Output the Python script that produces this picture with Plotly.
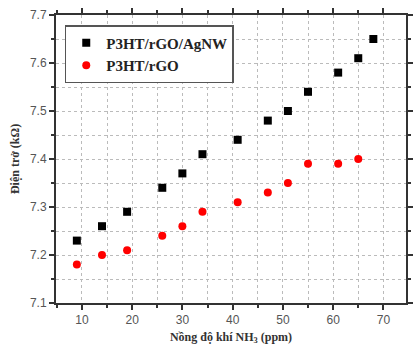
import plotly.graph_objects as go

x_agnw = [9, 14, 19, 26, 30, 34, 41, 47, 51, 55, 61, 65, 68]
y_agnw = [7.23, 7.26, 7.29, 7.34, 7.37, 7.41, 7.44, 7.48, 7.50, 7.54, 7.58, 7.61, 7.65]
x_rgo = [9, 14, 19, 26, 30, 34, 41, 47, 51, 55, 61, 65]
y_rgo = [7.18, 7.20, 7.21, 7.24, 7.26, 7.29, 7.31, 7.33, 7.35, 7.39, 7.39, 7.40]
name_agnw = "P3HT/rGO/AgNW"
name_rgo = "P3HT/rGO"
x_title = "Nồng độ khí NH<sub>3</sub> (ppm)"
y_title = "Điện trở (kΩ)"

fig = go.Figure()
fig.add_trace(go.Scatter(x=x_agnw, y=y_agnw, mode="markers", name="<b>" + name_agnw + "</b>",
                         marker=dict(symbol="square", size=8, color="black")))
fig.add_trace(go.Scatter(x=x_rgo, y=y_rgo, mode="markers", name="<b>" + name_rgo + "</b>",
                         marker=dict(symbol="circle", size=8, color="#ff0000")))

tickfont = dict(family="Arial, Liberation Sans", size=12, color="#555555")
titlefont = dict(family="Times New Roman, Liberation Serif", size=12, color="#333333")
fig.update_layout(
    width=414, height=346,
    margin=dict(l=56, r=1, t=15, b=43),
    paper_bgcolor="white", plot_bgcolor="white",
    showlegend=True,
    legend=dict(x=0.025, y=0.965, xanchor="left", yanchor="top",
                bgcolor="white", bordercolor="#555555", borderwidth=1.5,
                font=dict(family="Times New Roman, Liberation Serif", size=15, color="#222222"),
                tracegroupgap=0, itemwidth=30),
)
fig.update_xaxes(range=[4.85, 74.5], tickmode="array", tickvals=[10, 20, 30, 40, 50, 60, 70],
                 ticks="outside", ticklen=5, tickcolor="#333", tickwidth=1.5,
                 showline=True, linecolor="#333333", linewidth=2, mirror="ticks",
                 showgrid=True, gridcolor="#bbbbbb", griddash="dot", gridwidth=1,
                 minor=dict(dtick=5, tick0=0, ticks="outside", ticklen=3, tickcolor="#333",
                            showgrid=True, gridcolor="#bbbbbb", griddash="dot"),
                 tickfont=tickfont, zeroline=False,
                 title=dict(text="<b>" + x_title + "</b>", font=titlefont, standoff=6))
fig.update_yaxes(range=[7.1, 7.7], tickmode="array", tickvals=[7.1, 7.2, 7.3, 7.4, 7.5, 7.6, 7.7],
                 ticks="outside", ticklen=5, tickcolor="#333", tickwidth=1.5,
                 showline=True, linecolor="#333333", linewidth=2, mirror="ticks",
                 showgrid=True, gridcolor="#bbbbbb", griddash="dot", gridwidth=1,
                 minor=dict(dtick=0.05, tick0=7.1, ticks="outside", ticklen=3, tickcolor="#333",
                            showgrid=True, gridcolor="#bbbbbb", griddash="dot"),
                 tickfont=tickfont, zeroline=False,
                 title=dict(text="<b>" + y_title + "</b>", font=titlefont, standoff=8))

fig.write_html("out.html")
